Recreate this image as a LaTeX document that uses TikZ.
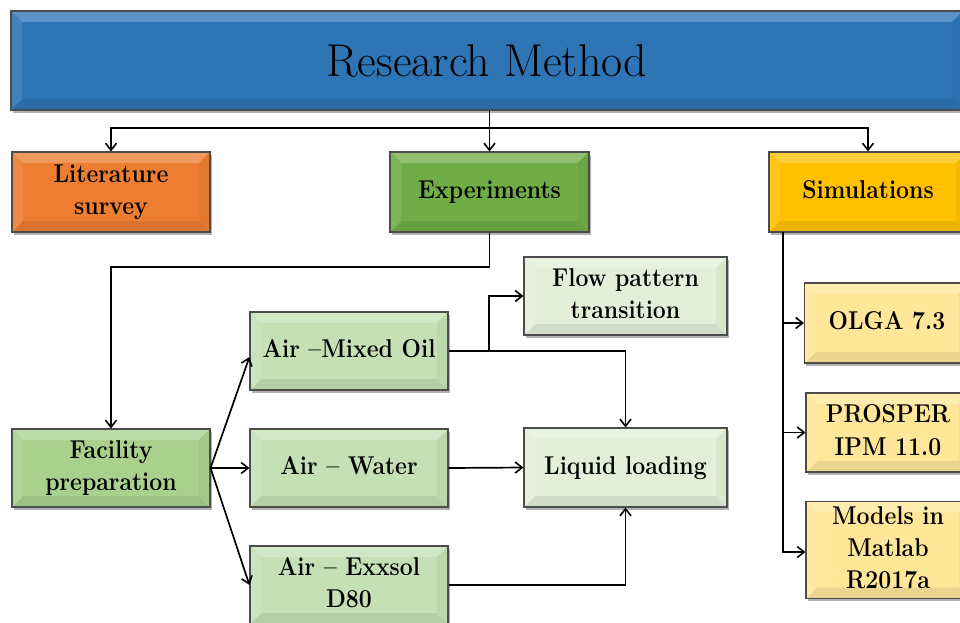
\documentclass[tikz,border=0pt]{standalone}
\usepackage{graphicx}
\usetikzlibrary{arrows.meta,shadows}
\definecolor{cTitle}{HTML}{2E75B6}
\definecolor{cLit}{HTML}{ED7D31}
\definecolor{cExp}{HTML}{70AD47}
\definecolor{cSim}{HTML}{FFC000}
\definecolor{cFac}{HTML}{A9D18E}
\definecolor{cAir}{HTML}{C5E0B4}
\definecolor{cRes}{HTML}{E2F0D9}
\definecolor{cKid}{HTML}{FFE699}
\newcommand\bt[1]{\scalebox{1}[1.12]{\bfseries\begin{tabular}{@{}c@{}}#1\end{tabular}}}
\tikzset{
  bx/.style={draw=black!70, line width=1.1pt, fill=#1, inner sep=0pt, align=center,
    text=black, font=\fontsize{23}{29}\selectfont\bfseries,
    drop shadow={shadow xshift=1.5pt, shadow yshift=-2.5pt, opacity=0.3, fill=black},
    path picture={
      \path (path picture bounding box.north west) coordinate (pNW)
            (path picture bounding box.north east) coordinate (pNE)
            (path picture bounding box.south west) coordinate (pSW)
            (path picture bounding box.south east) coordinate (pSE);
      \fill[#1!78!white] (pNW) -- (pNE) -- ([shift={(-11pt,-11pt)}]pNE) -- ([shift={(11pt,-11pt)}]pNW) -- cycle;
      \fill[#1!92!black] (pSW) -- (pSE) -- ([shift={(-11pt,11pt)}]pSE) -- ([shift={(11pt,11pt)}]pSW) -- cycle;
      \fill[#1!90!white] (pNW) -- ([shift={(11pt,-11pt)}]pNW) -- ([shift={(11pt,11pt)}]pSW) -- (pSW) -- cycle;
      \fill[#1!96!black] (pNE) -- ([shift={(-11pt,-11pt)}]pNE) -- ([shift={(-11pt,11pt)}]pSE) -- (pSE) -- cycle;
    }},
  arr/.style={line width=1.7pt, draw=black, -{Straight Barb[length=7pt,width=11pt,line width=1.6pt]}},
  ln/.style={line width=1.7pt, draw=black},
}
\begin{document}
\begin{tikzpicture}[x=1pt,y=-1pt]
\useasboundingbox (0,0) rectangle (960,622);
\fill[white] (0,0) rectangle (960,622);
\clip (0,0) rectangle (960,622);
% boxes
\node[bx=cTitle, minimum width=952, minimum height=99, font=\fontsize{46}{54}\selectfont] (title) at (487,60.5) {Research Method};
\node[bx=cLit, minimum width=198, minimum height=80] (lit) at (111,192) {\bt{Literature\\survey}};
\node[bx=cExp, minimum width=199, minimum height=80] (exp) at (489.5,192) {\bt{Experiments}};
\node[bx=cSim, minimum width=198, minimum height=80] (sim) at (868,192) {\bt{Simulations}};
\node[bx=cRes, minimum width=203, minimum height=78] (flow) at (625.5,296) {\bt{Flow pattern\\transition}};
\node[bx=cAir, minimum width=198, minimum height=78] (mixed) at (349,351) {\bt{Air --Mixed Oil}};
\node[bx=cAir, minimum width=198, minimum height=78] (water) at (349,468) {\bt{Air -- Water}};
\node[bx=cAir, minimum width=198, minimum height=78] (exx) at (349,585) {\bt{Air -- Exxsol\\D80}};
\node[bx=cFac, minimum width=198, minimum height=78] (fac) at (111,468) {\bt{Facility\\preparation}};
\node[bx=cRes, minimum width=203, minimum height=79] (liq) at (625.5,467.5) {\bt{Liquid loading}};
\node[bx=cKid, minimum width=165, minimum height=80] (olga) at (887,323) {\bt{OLGA 7.3}};
\node[bx=cKid, minimum width=164, minimum height=79] (pros) at (888,432.5) {\bt{PROSPER\\IPM 11.0}};
\node[bx=cKid, minimum width=164, minimum height=96] (mod) at (888,550) {\bt{Models in\\Matlab\\R2017a}};
% junctions
\coordinate (j) at (489.5,128);
\coordinate (k) at (489.5,267);
\coordinate (m) at (489,351);
\coordinate (s) at (783,232);
% connectors
\draw[arr] (exp.north |- title.south) -- (exp.north);
\draw[arr] (j) -| (lit.north);
\draw[arr] (j) -| (sim.north);
\draw[ln] (exp.south) -- (k);
\draw[arr] (k) -| (fac.north);
\draw[arr] (fac.east) -- ([yshift=-6pt]mixed.west);
\draw[arr] (fac.east) -- (water.west);
\draw[arr] (fac.east) -- (exx.west);
\draw[ln] (mixed.east) -- (m);
\draw[arr] (m) |- (flow.west);
\draw[arr] (m) -| (liq.north);
\draw[arr] (water.east) -- (liq.west);
\draw[arr] (exx.east) -| (liq.south);
\draw[arr] (s) |- (olga.west);
\draw[arr] (s) |- (pros.west);
\draw[arr] (s) |- ([yshift=-2pt]mod.west);
\end{tikzpicture}
\end{document}
